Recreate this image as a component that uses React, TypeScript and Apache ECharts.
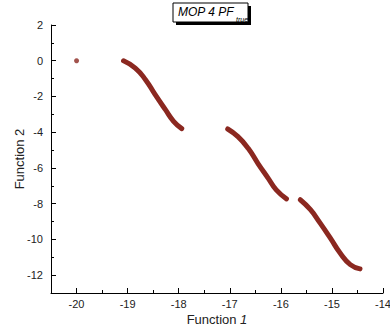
import React, { useEffect, useRef } from "react";
import * as echarts from "echarts";

const singlePoint: [number, number][] = [[-20.0, 0.0]];
const segment1: [number, number][] = [
  [-19.08, 0.0], [-18.85, -0.41], [-18.65, -1.06], [-18.46, -1.9],
  [-18.26, -2.74], [-18.1, -3.39], [-17.94, -3.8],
];
const segment2: [number, number][] = [
  [-17.04, -3.82], [-16.84, -4.25], [-16.64, -4.9], [-16.45, -5.74],
  [-16.25, -6.57], [-16.09, -7.23], [-15.89, -7.73],
];
const segment3: [number, number][] = [
  [-15.62, -7.78], [-15.42, -8.34], [-15.23, -9.09], [-15.03, -9.93],
  [-14.84, -10.76], [-14.64, -11.41], [-14.45, -11.65],
];
const xMajor = [-20, -19, -18, -17, -16, -15, -14];
const xMinor = [-20.5, -19.5, -18.5, -17.5, -16.5, -15.5, -14.5];
const yMajor = [-12, -10, -8, -6, -4, -2, 0, 2];
const yMinor = [-13, -11, -9, -7, -5, -3, -1, 1];

const COLOR = "#8b2820";
const FONT = "Liberation Sans, Arial, sans-serif";

export default function App() {
  const ref = useRef<HTMLDivElement>(null);
  useEffect(() => {
    const chart = echarts.init(ref.current!, undefined, { renderer: "svg" });
    const lineSeries = (data: [number, number][]) => ({
      type: "line",
      data,
      xAxisIndex: 0,
      yAxisIndex: 0,
      smooth: true,
      showSymbol: false,
      lineStyle: { color: COLOR, width: 5, cap: "round" },
      itemStyle: { color: COLOR },
      z: 3,
    });
    chart.setOption({
      animation: false,
      grid: { left: 51, right: 7, top: 25, bottom: 38, outerBoundsMode: "none", containLabel: false },
      xAxis: [
        {
          type: "value",
          min: -20.5,
          max: -14,
          name: "{a|Function }{b|1}",
          nameLocation: "middle",
          nameGap: 20,
          nameMoveOverlap: false,
          nameTextStyle: {
            rich: {
              a: { fontFamily: FONT, fontSize: 13, color: "#222" },
              b: { fontFamily: FONT, fontSize: 13, color: "#222", fontStyle: "italic" },
            },
          },
          axisLine: { show: true, onZero: false, lineStyle: { color: "#000", width: 1 } },
          axisTick: { show: true, inside: true, length: 5, customValues: xMajor, lineStyle: { color: "#000" } },
          axisLabel: {
            customValues: xMajor,
            fontFamily: FONT,
            fontSize: 11,
            color: "#222",
            margin: 5,
          },
          splitLine: { show: false },
        },
        {
          type: "value",
          min: -20.5,
          max: -14,
          position: "bottom",
          offset: 0,
          axisLine: { show: false, onZero: false },
          axisTick: { show: true, inside: true, length: 3, customValues: xMinor, lineStyle: { color: "#000" } },
          axisLabel: { show: false },
          splitLine: { show: false },
        },
      ],
      yAxis: [
        {
          type: "value",
          min: -13,
          max: 2,
          name: "{a|Function }{b|2}",
          nameLocation: "middle",
          nameGap: 25,
          nameRotate: 90,
          nameMoveOverlap: false,
          nameTextStyle: {
            rich: {
              a: { fontFamily: FONT, fontSize: 13, color: "#222" },
              b: { fontFamily: FONT, fontSize: 13, color: "#222" },
            },
          },
          axisLine: { show: true, onZero: false, lineStyle: { color: "#000", width: 1 } },
          axisTick: { show: true, inside: true, length: 5, customValues: yMajor, lineStyle: { color: "#000" } },
          axisLabel: {
            customValues: yMajor,
            fontFamily: FONT,
            fontSize: 11,
            color: "#222",
            margin: 8,
          },
          splitLine: { show: false },
        },
        {
          type: "value",
          min: -13,
          max: 2,
          position: "left",
          offset: 0,
          axisLine: { show: false, onZero: false },
          axisTick: { show: true, inside: true, length: 3, customValues: yMinor, lineStyle: { color: "#000" } },
          axisLabel: { show: false },
          splitLine: { show: false },
        },
      ],
      series: [
        {
          type: "scatter",
          data: singlePoint,
          symbolSize: 5,
          itemStyle: { color: COLOR },
          z: 3,
        },
        lineSeries(segment1),
        lineSeries(segment2),
        lineSeries(segment3),
      ],
      graphic: [
        { type: "rect", shape: { x: 176, y: 6, width: 75, height: 19 }, style: { fill: "#000" }, z: 10 },
        { type: "rect", shape: { x: 173, y: 3, width: 75, height: 19 }, style: { fill: "#fff", stroke: "#000", lineWidth: 1 }, z: 11 },
        {
          type: "text",
          x: 178,
          y: 6,
          style: { text: "MOP 4 PF", font: "italic 12px " + FONT, fill: "#000" },
          z: 12,
        },
        {
          type: "text",
          x: 236,
          y: 16,
          style: { text: "true", font: "italic 7px " + FONT, fill: "#000" },
          z: 12,
        },
      ],
    });
    return () => chart.dispose();
  }, []);
  return <div ref={ref} style={{ width: 390, height: 331, position: "absolute", left: 0, top: 0 }} />;
}
